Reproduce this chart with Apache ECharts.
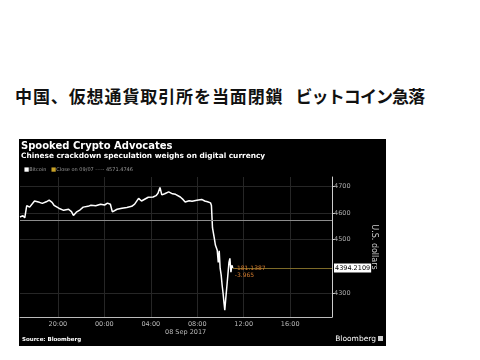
<!DOCTYPE html>
<html>
<head>
<meta charset="utf-8">
<script src="https://cdn.jsdelivr.net/npm/echarts@6/dist/echarts.min.js"></script>
<style>
  html, body { margin: 0; padding: 0; background: #fff; width: 480px; height: 360px; overflow: hidden; }
  #headline { position: absolute; left: 15px; top: 83px; margin: 0; font: bold 17px "Noto Sans CJK JP", sans-serif; color: #111; white-space: nowrap; }
  #headline .a { letter-spacing: 0.9px; }
  #headline .b { letter-spacing: -0.9px; margin-left: 12px; }
  #chart { position: absolute; left: 19px; top: 139px; width: 367px; height: 207px; background: #000; }
</style>
</head>
<body>
<h1 id="headline"><span class="a">中国、仮想通貨取引所を当面閉鎖</span><span class="b">ビットコイン急落</span></h1>
<div id="chart"></div>
<script>
// time in hours since 00:00, 07 Sep 2017
const times = [16.74, 16.99, 17.15, 17.32, 17.57, 17.99, 18.41, 18.66, 19.0, 19.25, 19.5, 19.67, 20.08, 20.5, 20.92, 21.17, 21.34, 21.59, 21.92, 22.18, 22.59, 22.85, 23.26, 23.68, 24.02, 24.27, 24.52, 24.69, 24.85, 25.1, 25.52, 25.94, 26.36, 26.61, 26.95, 27.2, 27.36, 27.78, 28.2, 28.45, 28.62, 28.79, 28.95, 29.2, 29.54, 29.87, 30.13, 30.54, 30.79, 30.96, 31.3, 31.55, 31.97, 32.38, 32.64, 32.89, 33.14, 33.22, 33.31, 33.47, 33.56, 33.72, 33.81, 33.89, 33.97, 34.06, 34.14, 34.22, 34.31, 34.37, 34.48, 34.56, 34.73, 34.81, 34.9, 34.98, 35.06];
const prices = [4585, 4590, 4582, 4628, 4622, 4645, 4640, 4636, 4642, 4648, 4640, 4629, 4618, 4610, 4614, 4605, 4591, 4603, 4612, 4622, 4625, 4629, 4627, 4633, 4630, 4637, 4633, 4604, 4599, 4614, 4618, 4621, 4625, 4633, 4655, 4645, 4651, 4659, 4660, 4665, 4674, 4696, 4668, 4672, 4679, 4672, 4670, 4660, 4650, 4641, 4646, 4644, 4648, 4651, 4645, 4642, 4638, 4628, 4545, 4505, 4480, 4460, 4415, 4458, 4393, 4367, 4330, 4300, 4260, 4236, 4292, 4330, 4415, 4430, 4378, 4404, 4394.2109];
const xTicks = [20, 24, 28, 32, 36, 40];
const xTickLabels = ['20:00', '00:00', '04:00', '08:00', '12:00', '16:00'];
const yTicks = [4300, 4500, 4600, 4700];
const prevClose = 4571.4746;
const lastPrice = 4394.2109;
const change = '-181.1387';
const changePct = '-3.965';
const xMin = 16.74, xMax = 43.6, yMin = 4210, yMax = 4735;

const chart = echarts.init(document.getElementById('chart'), null, { renderer: 'canvas' });
const data = times.map((t, i) => [t, prices[i]]);
const lastIdx = data.length - 1;
const font = 'DejaVu Sans';

chart.setOption({
  backgroundColor: '#000',
  animation: false,
  textStyle: { fontFamily: font },
  title: [
    { text: 'Spooked Crypto Advocates', left: 2, top: 2, padding: 0, textStyle: { color: '#fff', fontSize: 10, fontWeight: 'bold', fontFamily: font } },
    { text: 'Chinese crackdown speculation weighs on digital currency', left: 2, top: 14, padding: 0, textStyle: { color: '#fff', fontSize: 7.4, fontWeight: 'bold', fontFamily: font } }
  ],
  graphic: [
    { type: 'text', left: 5, top: 28, style: { text: '{w|■}{t|Bitcoin   }{y|■}{t|Close on 09/07 ----- ' + prevClose + '}', rich: {
      w: { fill: '#fff', fontSize: 5.5, fontFamily: font },
      y: { fill: '#c9a227', fontSize: 5.5, fontFamily: font },
      t: { fill: '#999', fontSize: 5, fontFamily: font }
    } } },
    { type: 'text', left: 146, top: 190, style: { text: '08 Sep 2017', fill: '#bbb', fontSize: 6.5, fontFamily: font } },
    { type: 'text', left: 3, top: 198, style: { text: 'Source: Bloomberg', fill: '#fff', fontSize: 5.5, fontWeight: 'bold', fontFamily: font } },
    { type: 'text', right: 10, top: 196, style: { text: 'Bloomberg', fill: '#fff', fontSize: 7.5, fontFamily: font } },
    { type: 'rect', right: 3, top: 197, shape: { width: 5, height: 5 }, style: { fill: '#ccc' } }
  ],
  grid: { left: 1, right: 45, top: 38, bottom: 29 },
  xAxis: {
    type: 'value', min: xMin, max: xMax,
    axisLine: { show: true, lineStyle: { color: '#bbb', width: 1 } },
    axisTick: { show: false, customValues: xTicks },
    axisLabel: { customValues: xTicks, color: '#bbb', fontSize: 6.5, margin: 4,
      formatter: v => xTickLabels[xTicks.indexOf(v)] || '' },
    splitLine: { show: true, lineStyle: { color: '#262626', width: 1 } }
  },
  yAxis: {
    type: 'value', min: yMin, max: yMax, position: 'right',
    name: 'U.S. dollars', nameLocation: 'middle', nameRotate: -90, nameGap: 38,
    nameTextStyle: { color: '#ccc', fontSize: 8, fontFamily: font },
    axisLine: { show: true, lineStyle: { color: '#ccc', width: 1 } },
    axisTick: { show: true, customValues: yTicks, length: 3, lineStyle: { color: '#ccc' } },
    axisLabel: { customValues: yTicks, color: '#aaa', fontSize: 6.5, margin: 2, formatter: v => String(v) },
    splitLine: { show: true, lineStyle: { color: '#262626', width: 1 } }
  },
  series: [{
    type: 'line', name: 'Bitcoin', data: data, showSymbol: false, symbol: 'none',
    lineStyle: { color: '#fff', width: 1.5 },
    label: { show: false },
    markLine: {
      silent: true, symbol: 'none', animation: false,
      data: [
        [{ coord: [xMin, prevClose], lineStyle: { color: '#8c8c8c', width: 1, type: 'solid' }, label: { show: false } },
         { coord: [xMax, prevClose] }],
        [{ coord: [times[lastIdx], lastPrice], lineStyle: { color: '#7d6a28', width: 1, type: 'solid' },
           label: { show: true, position: 'end', formatter: String(lastPrice), color: '#000', backgroundColor: '#fff', padding: [1, 1], fontSize: 6.5, distance: 2 } },
         { coord: [xMax, lastPrice] }]
      ]
    },
    markPoint: {
      symbol: 'circle', symbolSize: 0,
      data: [{ coord: [times[lastIdx], lastPrice],
        label: { show: true, position: 'right', distance: 2, offset: [0, 4], formatter: change + '\n' + changePct,
          color: '#d07a2e', fontSize: 6, lineHeight: 7, fontFamily: font } }]
    }
  }]
});
</script>
</body>
</html>
